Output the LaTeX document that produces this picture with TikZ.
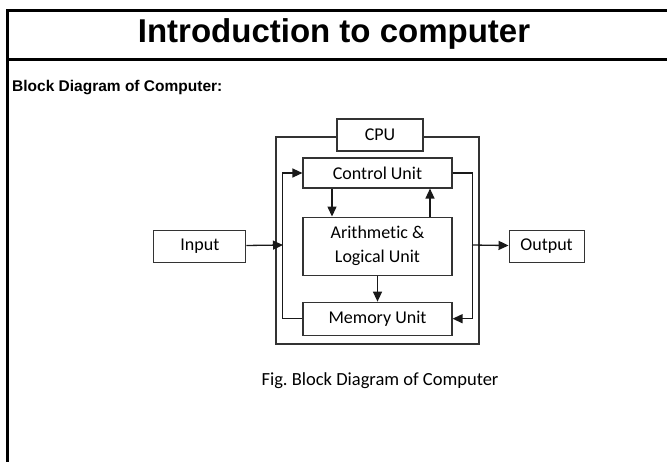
\documentclass[tikz,border=0pt]{standalone}
\usepackage{fontspec}
\setmainfont{Liberation Sans}
\newfontfamily\calfont[Ligatures=NoCommon]{Carlito}
\usepackage{tikz}
\usetikzlibrary{positioning}
\usetikzlibrary{arrows.meta}

\tikzset{
  unit/.style={draw=black!80, line width=1.1pt, font=\calfont\fontsize{18}{20}\selectfont,
    minimum width=149pt, minimum height=30pt, inner sep=0pt},
  io/.style={unit, minimum width=92pt, minimum height=32pt},
  flow/.style={draw=black!90, line width=1.3pt, -{Triangle[length=10pt,width=9pt]}},
  frame/.style={line width=3pt, line cap=rect}
}

\begin{document}
\begin{tikzpicture}[x=1pt,y=-1pt]
\useasboundingbox (0,0) rectangle (667,461);
% slide frame
\draw[frame] (667,10) -- (7,10) -- (7,461);
\draw[line width=3pt] (7,59) -- (667,59);
\node[font=\bfseries\fontsize{33}{36}\selectfont] (title) at (334,34) {Introduction to computer};
\node[font=\bfseries\fontsize{15.5}{20}\selectfont, anchor=west, inner sep=0pt] (sub) at (12,88) {Block Diagram of Computer:};

% cpu
\node[draw=black!80, line width=1.1pt, minimum width=203pt, minimum height=207pt] (cpubox) at (377.5,240.5) {};
\node[unit, fill=white, minimum width=86pt, minimum height=32pt] (cpu) at (380,135) {CPU};
\node[unit] (cu) at (377.5,173) {Control Unit};
\node[unit, below=28pt of cu, minimum height=58pt, align=center] (alu) {Arithmetic \&\\[4pt] Logical Unit};
\node[unit, below=26pt of alu, minimum height=33pt] (mem) {Memory Unit};
\node[io, left=56pt of alu] (in) {Input};
\node[io, right=56pt of alu, minimum width=75pt] (out) {Output};
\coordinate (lbus) at (283,245);
\coordinate (rbus) at (472,245);

\draw[flow] (mem.west) -- ++(-20,0) |- (cu.west);
\draw[flow] (cu.east) -- ++(20,0) |- (mem.east);
\draw[flow] (in) -- (lbus);
\draw[flow] (rbus) -- (out);
\draw[flow] ([xshift=-45.5pt]cu.south) -- ([xshift=-45.5pt]alu.north);
\draw[flow] ([xshift=52.5pt]alu.north) -- ([xshift=52.5pt]cu.south);
\draw[flow] (alu) -- (mem);

\node[font=\calfont\fontsize{18.5}{20}\selectfont] (cap) at (380,381) {Fig.\ Block Diagram of Computer};
\end{tikzpicture}
\end{document}
